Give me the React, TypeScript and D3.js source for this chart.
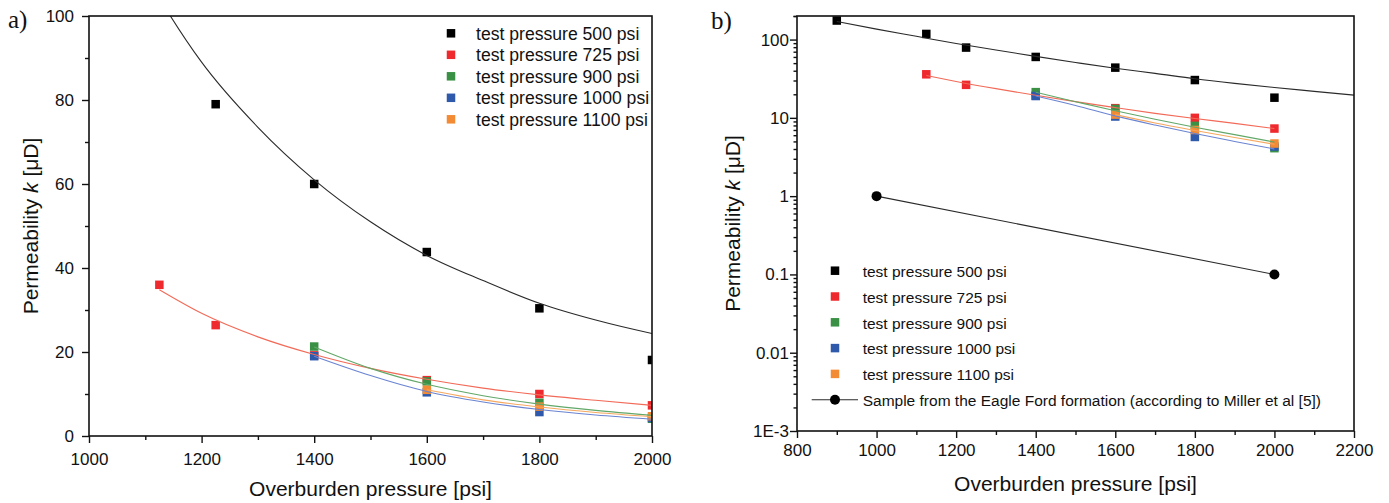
import React, { useRef, useEffect } from 'react'
import { select, scaleLinear, scaleLog, axisBottom, axisLeft, line, curveMonotoneX } from 'd3'

const FONT = '"Liberation Sans", Arial, sans-serif'

// legend / series info
const legendNames = [
  'test pressure 500 psi',
  'test pressure 725 psi',
  'test pressure 900 psi',
  'test pressure 1000 psi',
  'test pressure 1100 psi',
]
const markerColors = ['#000000', '#ee2a2f', '#3a9146', '#2f5aab', '#f38b34']
const lineColors = ['#2a2a2a', '#f26a58', '#62a868', '#6a84d2', '#f6a860']
const efName = 'Sample from the Eagle Ford formation (according to Miller et al [5])'

// measured points (overburden pressure [psi] -> permeability [µD])
const p500 = [900, 1125, 1225, 1400, 1600, 1800, 2000]
const k500 = [175, 118, 79, 60, 43.8, 30.4, 18.1]
const p725 = [1125, 1225, 1400, 1600, 1800, 2000]
const k725 = [36, 26.4, 19.2, 13.3, 10, 7.3]
const p900 = [1400, 1600, 1800, 2000]
const k900 = [21.3, 13, 7.9, 4.1]
const p1000 = [1400, 1600, 1800, 2000]
const k1000 = [19, 10.4, 5.7, 4.3]
const p1100 = [1600, 1800, 2000]
const k1100 = [11, 7, 4.7]

// fitted curves
const fitP500 = [900, 1000, 1100, 1200, 1300, 1400, 1500, 1600, 1700, 1800, 1900, 2000, 2100, 2200]
const fitK500 = [170, 136, 110, 89, 73.5, 61, 51, 43, 37, 31.6, 27.6, 24.4, 21.8, 19.5]
const fitP725 = [1125, 1200, 1300, 1400, 1500, 1600, 1700, 1800, 1900, 2000]
const fitK725 = [34.8, 29.2, 23.6, 19.4, 16.1, 13.5, 11.4, 9.8, 8.5, 7.3]
const fitP900 = [1400, 1500, 1600, 1700, 1800, 1900, 2000]
const fitK900 = [21.2, 16.1, 12.3, 9.6, 7.6, 6.1, 4.9]
const fitP1000 = [1400, 1500, 1600, 1700, 1800, 1900, 2000]
const fitK1000 = [19.0, 14.4, 10.6, 8.1, 6.3, 5.0, 4.0]
const fitP1100 = [1600, 1700, 1800, 1900, 2000]
const fitK1100 = [11.0, 8.6, 6.9, 5.6, 4.6]

// Eagle Ford sample (Miller et al)
const pEF = [1000, 2000]
const kEF = [1, 0.1]

const seriesP = [p500, p725, p900, p1000, p1100]
const seriesK = [k500, k725, k900, k1000, k1100]
const fitP = [fitP500, fitP725, fitP900, fitP1000, fitP1100]
const fitK = [fitK500, fitK725, fitK900, fitK1000, fitK1100]

// ticks
const aXMajor = [1000, 1200, 1400, 1600, 1800, 2000]
const aXMinor = [1100, 1300, 1500, 1700, 1900]
const aYMajor = [0, 20, 40, 60, 80, 100]
const aYMinor = [10, 30, 50, 70, 90]
const bXMajor = [800, 1000, 1200, 1400, 1600, 1800, 2000, 2200]
const bXMinor = [900, 1100, 1300, 1500, 1700, 1900, 2100]
const bYMajor = [0.001, 0.01, 0.1, 1, 10, 100]
const bYLabels = ['1E-3', '0.01', '0.1', '1', '10', '100']

const M = 8.5

export default function App() {
  const axesRef = useRef<SVGGElement>(null)

  const xa = scaleLinear().domain([1000, 2000]).range([89, 652])
  const ya = scaleLinear().domain([0, 100]).range([436, 16])
  const xb = scaleLinear().domain([800, 2200]).range([797, 1354])
  const yb = scaleLog().domain([0.001, 200]).range([431, 16])

  const bYMinor: number[] = []
  bYMajor.forEach(d => {
    for (let m = 2; m <= 9; m++) if (d * m <= 200) bYMinor.push(d * m)
  })
  bYMinor.push(200)

  useEffect(() => {
    const root = select(axesRef.current)
    const style = (g: any) => {
      g.select('.domain').remove()
      g.selectAll('line').attr('stroke', '#111').attr('stroke-width', 1.4)
      g.selectAll('text').attr('font-family', FONT).attr('font-size', 17).attr('fill', '#111')
    }
    root.select('.ax-x-major').attr('transform', 'translate(0,436)')
      .call(axisBottom(xa).tickValues(aXMajor).tickSize(7).tickPadding(10).tickFormat((d: any) => String(d)))
      .call(style)
    root.select('.ax-x-minor').attr('transform', 'translate(0,436)')
      .call(axisBottom(xa).tickValues(aXMinor).tickSize(4).tickFormat(() => ''))
      .call(style)
    root.select('.ay-major').attr('transform', 'translate(89,0)')
      .call(axisLeft(ya).tickValues(aYMajor).tickSize(7).tickPadding(8).tickFormat((d: any) => String(d)))
      .call(style)
    root.select('.ay-minor').attr('transform', 'translate(89,0)')
      .call(axisLeft(ya).tickValues(aYMinor).tickSize(4).tickFormat(() => ''))
      .call(style)

    root.select('.bx-major').attr('transform', 'translate(0,431)')
      .call(axisBottom(xb).tickValues(bXMajor).tickSize(7).tickPadding(6).tickFormat((d: any) => String(d)))
      .call(style)
    root.select('.bx-minor').attr('transform', 'translate(0,431)')
      .call(axisBottom(xb).tickValues(bXMinor).tickSize(4).tickFormat(() => ''))
      .call(style)
    root.select('.by-major').attr('transform', 'translate(797,0)')
      .call(axisLeft(yb).tickValues(bYMajor).tickSize(7).tickPadding(1)
        .tickFormat((d: any, i: number) => bYLabels[i]))
      .call(style)
    root.select('.by-minor').attr('transform', 'translate(797,0)')
      .call(axisLeft(yb).tickValues(bYMinor).tickSize(3.5).tickFormat(() => ''))
      .call(style)
  }, [])

  const curveA = (ps: number[]) => line<number>().x((d, i) => xa(ps[i])).y(d => ya(d)).curve(curveMonotoneX)
  const curveB = (ps: number[]) => line<number>().x((d, i) => xb(ps[i])).y(d => yb(d)).curve(curveMonotoneX)

  return (
    <svg width={1389} height={503} style={{ position: 'absolute', left: 0, top: 0, background: '#fff' }}>
      <defs>
        <clipPath id="clipA"><rect x={89} y={16} width={563} height={420} /></clipPath>
        <clipPath id="clipB"><rect x={797} y={16} width={557} height={415} /></clipPath>
      </defs>
      <rect x={0} y={0} width={1389} height={503} fill="#fff" />

      {/* panel a */}
      <g clipPath="url(#clipA)">
        {seriesK.map((ks, s) => ks.map((k, i) => (
          <rect key={`a${s}-${i}`} x={xa(seriesP[s][i]) - M / 2} y={ya(k) - M / 2} width={M} height={M} fill={markerColors[s]} />
        )))}
        {fitK.map((ks, s) => (
          <path key={`af${s}`} d={curveA(fitP[s])(ks) || ''} fill="none" stroke={lineColors[s]} strokeWidth={1.1} />
        ))}
      </g>
      <rect x={89} y={16} width={563} height={420} fill="none" stroke="#111" strokeWidth={1.6} />

      {/* panel b */}
      <g clipPath="url(#clipB)">
        {seriesK.map((ks, s) => ks.map((k, i) => (
          <rect key={`b${s}-${i}`} x={xb(seriesP[s][i]) - M / 2} y={yb(k) - M / 2} width={M} height={M} fill={markerColors[s]} />
        )))}
        {fitK.map((ks, s) => (
          <path key={`bf${s}`} d={curveB(fitP[s])(ks) || ''} fill="none" stroke={lineColors[s]} strokeWidth={1.1} />
        ))}
        <path d={curveB(pEF)(kEF) || ''} fill="none" stroke="#2a2a2a" strokeWidth={1.1} />
        {kEF.map((k, i) => (
          <circle key={`ef${i}`} cx={xb(pEF[i])} cy={yb(k)} r={5} fill="#000" />
        ))}
      </g>
      <rect x={797} y={16} width={557} height={415} fill="none" stroke="#111" strokeWidth={1.6} />

      <g ref={axesRef}>
        <g className="ax-x-major" /><g className="ax-x-minor" />
        <g className="ay-major" /><g className="ay-minor" />
        <g className="bx-major" /><g className="bx-minor" />
        <g className="by-major" /><g className="by-minor" />
      </g>

      {/* legend a */}
      <g fontFamily={FONT} fontSize={17.6} fill="#111">
        {legendNames.map((n, i) => (
          <g key={`la${i}`}>
            <rect x={451 - M / 2} y={33.3 + i * 21.5 - M / 2} width={M} height={M} fill={markerColors[i]} />
            <text x={476} y={39.5 + i * 21.5}>{n}</text>
          </g>
        ))}
      </g>

      {/* legend b */}
      <g fontFamily={FONT} fontSize={15.5} fill="#111">
        {legendNames.map((n, i) => (
          <g key={`lb${i}`}>
            <rect x={835 - M / 2} y={270.7 + i * 25.8 - M / 2} width={M} height={M} fill={markerColors[i]} />
            <text x={862.7} y={277 + i * 25.8}>{n}</text>
          </g>
        ))}
        <line x1={811.7} x2={858} y1={399.7} y2={399.7} stroke="#2a2a2a" strokeWidth={1.1} />
        <circle cx={835} cy={399.7} r={5} fill="#000" />
        <text x={862.7} y={406} fill="#111">{efName}</text>
      </g>

      {/* axis titles */}
      <g fontFamily={FONT} fontSize={21} fill="#111" textAnchor="middle">
        <text x={370.5} y={496}>Overburden pressure [psi]</text>
        <text x={1075.5} y={491}>Overburden pressure [psi]</text>
        <text transform="translate(38,226) rotate(-90)">Permeability <tspan fontStyle="italic">k</tspan> [μD]</text>
        <text transform="translate(740,223.5) rotate(-90)">Permeability <tspan fontStyle="italic">k</tspan> [μD]</text>
      </g>

      {/* panel labels */}
      <g fontFamily='"Liberation Serif", "Times New Roman", serif' fontSize={25} fill="#111">
        <text x={8} y={27.5}>a)</text>
        <text x={711} y={29}>b)</text>
      </g>
    </svg>
  )
}
